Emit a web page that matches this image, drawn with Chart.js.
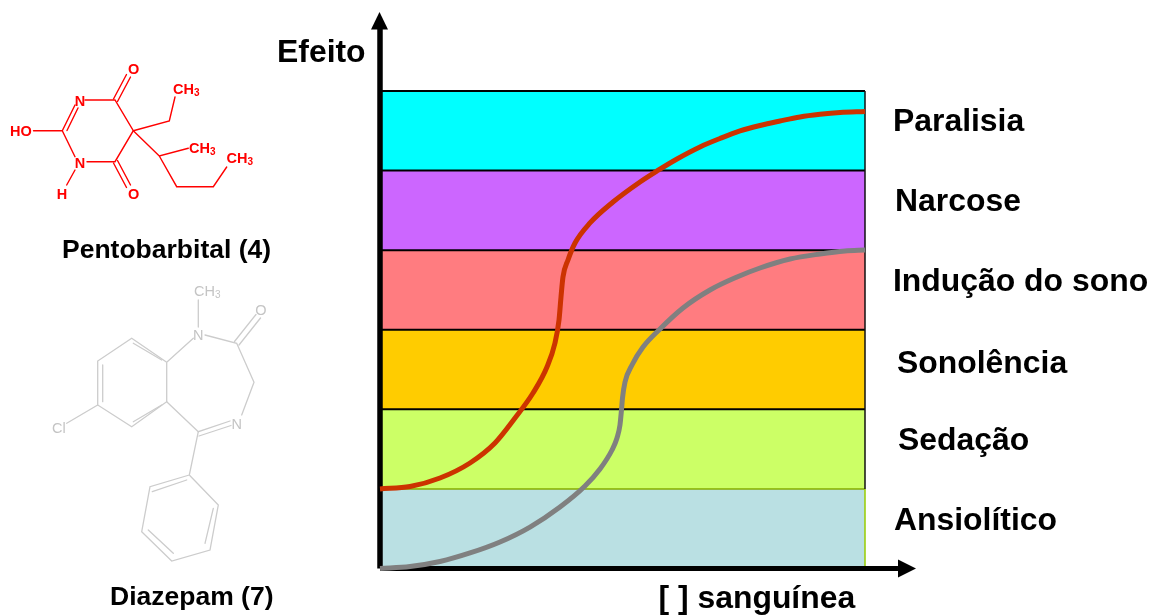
<!DOCTYPE html>
<html lang="pt">
<head>
<meta charset="utf-8">
<title>Efeito vs concentração sanguínea</title>
<script src="https://cdn.jsdelivr.net/npm/chart.js@4"></script>
<style>
html,body{margin:0;padding:0;background:#fff;width:1152px;height:615px;overflow:hidden}
#wrap{position:relative;width:1152px;height:615px;font-family:"Liberation Sans",Arial,sans-serif}
canvas{position:absolute;left:0;top:0}
svg{position:absolute;left:0;top:0}
.t{position:absolute;font-weight:bold;color:#000;white-space:nowrap;line-height:1}
.b{font-size:31.9px}
.n{font-size:26.5px}
</style>
</head>
<body>
<div id="wrap">
<canvas id="c" width="1152" height="615"></canvas>
<svg width="1152" height="615" viewBox="0 0 1152 615">
  <g stroke="#ff0000" stroke-width="1.4" fill="none" stroke-linecap="round">
    <path d="M85 100H115L133.3 130.7L115 161.7H87M75 156.7L62.3 130.7L75 105M67 130.5L78 108M33.5 130.7H62.3"/>
    <path d="M113.5 99L126.5 74.5M117.5 101.5L130.5 77M113.5 163L126.5 187.5M117.5 160.5L130.5 185"/>
    <path d="M75 170L66.7 185M133.3 130.7L169.3 121L175 97M133.3 130.7L159.3 156L188.3 148.3M159.3 156L176.7 186.7H213.3L226.7 167"/>
  </g>
  <g fill="#ff0000" font-family="Liberation Sans, Arial, sans-serif" font-weight="bold" font-size="14.5">
    <text x="133.7" y="74" text-anchor="middle">O</text>
    <text x="80" y="105.5" text-anchor="middle">N</text>
    <text x="80" y="167.5" text-anchor="middle">N</text>
    <text x="10" y="136">HO</text>
    <text x="62" y="199" text-anchor="middle">H</text>
    <text x="133.7" y="199" text-anchor="middle">O</text>
    <text x="173" y="93.5">CH<tspan font-size="10" dy="2">3</tspan></text>
    <text x="189" y="153">CH<tspan font-size="10" dy="2">3</tspan></text>
    <text x="226.5" y="163">CH<tspan font-size="10" dy="2">3</tspan></text>
  </g>
  <g stroke="#cccccc" stroke-width="1.3" fill="none" stroke-linecap="round">
    <path d="M198.3 300V327M205 335L236.7 343.3L254 382.3L241.7 415M193.3 338.3L166.7 362.3V401.7L131.7 426.7L97.7 405V361L131.7 338.3L166.7 362.3"/>
    <path d="M234.5 341.5L256 314.5M239 345L260.5 318M166.7 401.7L198.3 431.7L230 421M199 436L231 425.5"/>
    <path d="M133.3 343.3L161.7 360M102.7 365V401.7M133.3 421.7L161.7 405M97.7 405L66.7 423.3"/>
    <path d="M198.3 431.7L189.3 475L218.3 505L210 550L171.7 561L141.7 531.7L150 486.7L189.3 475M152.3 491.7L186.7 480M213.3 508.3L205 543.3M148.3 530L173.3 553.3"/>
  </g>
  <g fill="#c4c4c4" font-family="Liberation Sans, Arial, sans-serif" font-size="14.5">
    <text x="194" y="296">CH<tspan font-size="10" dy="2">3</tspan></text>
    <text x="198.3" y="340" text-anchor="middle">N</text>
    <text x="261" y="315" text-anchor="middle">O</text>
    <text x="236.7" y="429" text-anchor="middle">N</text>
    <text x="52" y="433">Cl</text>
  </g>
</svg>
</div>
<script>
const bandNames = ["Ansiolítico","Sedação","Sonolência","Indução do sono","Narcose","Paralisia"];
const bandLower = [0,1,2,3,4,5];
const bandUpper = [1,2,3,4,5,6];
const bandColors = ["#bae0e3","#ccff66","#ffcc00","#ff7c80","#cc66ff","#00ffff"];
const bandBorders = ["#86ac00","#000000","#000000","#000000","#000000","#000000"];

const pentoX = [0,6.19,12.37,18.56,23.71,27.84,31.55,34.43,36.08,36.91,37.32,37.73,38.76,40.21,43.30,48.04,53.61,57.11,61.24,65.98,70.10,74.23,78.35,82.47,86.60,90.72,94.85,100];
const pentoY = [1.0,1.03,1.137,1.326,1.577,1.891,2.205,2.532,2.834,3.123,3.412,3.663,3.877,4.090,4.342,4.605,4.857,4.995,5.146,5.297,5.403,5.498,5.567,5.623,5.674,5.707,5.730,5.743];
const diazX = [0,6.19,12.37,18.56,24.74,30.93,37.11,42.27,45.36,47.84,48.87,49.48,49.79,50.0,50.52,51.96,54.23,57.73,62.47,68.04,73.61,78.35,84.54,90.72,95.88,100];
const diazY = [0,0.025,0.088,0.195,0.333,0.521,0.773,1.037,1.250,1.489,1.640,1.803,1.992,2.142,2.344,2.557,2.783,3.010,3.274,3.500,3.663,3.776,3.889,3.952,3.990,4.002];

const xAxisEnd = 106.8;
const yAxisEnd = 6.78;

const pairs = (xs, ys) => xs.map((x,i)=>({x, y:ys[i]}));

const datasets = [];
bandNames.forEach((name,i)=>{
  datasets.push({
    label:name, type:'line', order:10,
    data:[{x:0,y:bandUpper[i]},{x:100,y:bandUpper[i]}],
    fill:{value:bandLower[i]}, backgroundColor:bandColors[i],
    borderColor:bandBorders[i], borderWidth:i===0?1.5:2, pointRadius:0, clip:false
  });
});
datasets.push({label:"borda inferior",order:9,data:[{x:100,y:0},{x:100,y:1}],borderColor:"#99cc00",borderWidth:1.5,pointRadius:0,clip:false});
datasets.push({label:"borda superior",order:9,data:[{x:100,y:1},{x:100,y:6}],borderColor:"#111111",borderWidth:1.5,pointRadius:0,clip:false});
datasets.push({label:"eixo y",order:5,data:[{x:0,y:0},{x:0,y:yAxisEnd}],borderColor:"#000",borderWidth:5.5,pointRadius:0,clip:false});
datasets.push({label:"eixo x",order:5,data:[{x:0,y:0},{x:xAxisEnd,y:0}],borderColor:"#000",borderWidth:5,pointRadius:0,clip:false});
datasets.push({label:"Pentobarbital (4)",order:1,data:pairs(pentoX,pentoY),borderColor:"#cc3300",borderWidth:5,pointRadius:0,cubicInterpolationMode:'monotone',clip:false,borderCapStyle:'butt'});
datasets.push({label:"Diazepam (7)",order:0,data:pairs(diazX,diazY),borderColor:"#808080",borderWidth:5,pointRadius:0,cubicInterpolationMode:'monotone',clip:false,borderCapStyle:'butt'});

const arrowHeads = {
  id:'arrowHeads',
  afterDatasetsDraw(chart){
    const {ctx, scales:{x,y}} = chart;
    const x0 = x.getPixelForValue(0), y0 = y.getPixelForValue(0);
    const ye = y.getPixelForValue(yAxisEnd), xe = x.getPixelForValue(xAxisEnd);
    ctx.save(); ctx.fillStyle='#000';
    ctx.beginPath(); ctx.moveTo(x0-0.5,ye-17); ctx.lineTo(x0-9,ye+0.5); ctx.lineTo(x0+8,ye+0.5); ctx.closePath(); ctx.fill();
    ctx.beginPath(); ctx.moveTo(xe+18,y0); ctx.lineTo(xe,y0-9); ctx.lineTo(xe,y0+9); ctx.closePath(); ctx.fill();
    ctx.restore();
  }
};

new Chart(document.getElementById('c'),{
  type:'line',
  data:{datasets},
  plugins:[arrowHeads],
  options:{
    responsive:false, animation:false,
    layout:{padding:{left:380,right:287,top:91,bottom:46.5}},
    plugins:{legend:{display:false},tooltip:{enabled:false},title:{display:false}},
    scales:{
      x:{type:'linear',min:0,max:100,display:false},
      y:{type:'linear',min:0,max:6,display:false}
    }
  }
});

const texts = [
  ["Paralisia",893,132,"b"],["Narcose",895,212,"b"],["Indução do sono",893,292,"b"],
  ["Sonolência",897,374,"b"],["Sedação",898,451,"b"],["Ansiolítico",894,531,"b"],
  ["Efeito",277,63,"b"],["[ ] sanguínea",658.5,609,"b"],
  ["Pentobarbital (4)",62,259,"n"],["Diazepam (7)",110,606,"n"]
];
const wrap = document.getElementById('wrap');
texts.forEach(([s,x,base,cls])=>{
  const d=document.createElement('div');
  d.className='t '+cls; d.textContent=s;
  const fs = cls==='b'?31.9:26.5;
  d.style.left=x+'px';
  d.style.top=(base-fs*0.86)+'px';
  wrap.appendChild(d);
});
</script>
</body>
</html>
